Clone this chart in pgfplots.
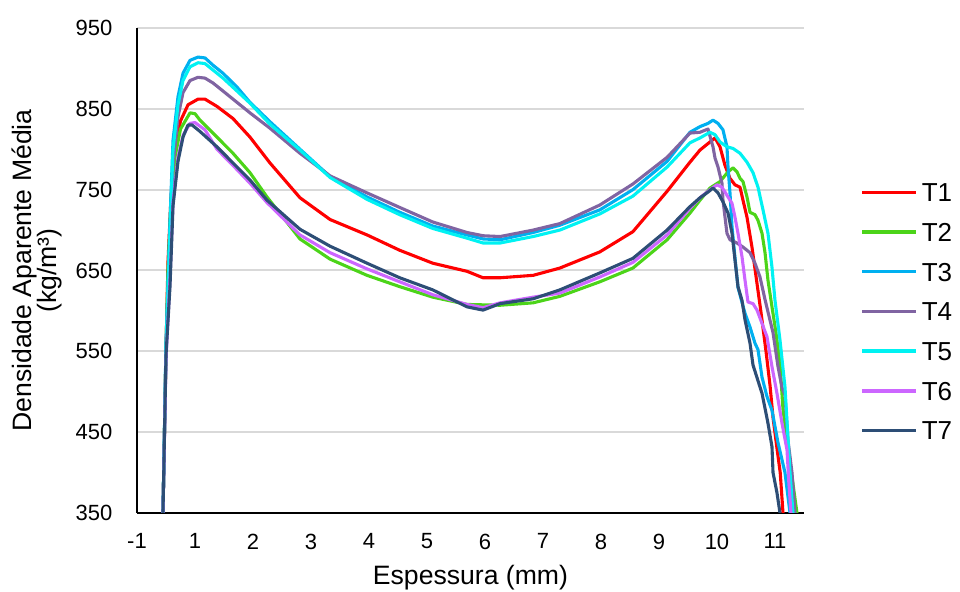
\documentclass[border=0pt]{standalone}
\usepackage{fontspec}
\setmainfont{Liberation Sans}
\usepackage{pgfplots}
\pgfplotsset{compat=1.18}
\definecolor{cT1}{HTML}{FF0000}
\definecolor{cT2}{HTML}{4CD419}
\definecolor{cT3}{HTML}{00B0F0}
\definecolor{cT4}{HTML}{8064A2}
\definecolor{cT5}{HTML}{00F2F2}
\definecolor{cT6}{HTML}{CC66FF}
\definecolor{cT7}{HTML}{2D4E76}
\definecolor{gridc}{HTML}{D9D9D9}
\begin{document}
\begin{tikzpicture}
\path[use as bounding box] (-68.5pt,-39.5pt) rectangle (411.5pt,256.5pt);
\begin{axis}[
  at={(0pt,0pt)}, anchor=south west,
  scale only axis, width=333.5pt, height=242.5pt,
  xmin=-0.5, xmax=11, ymin=350, ymax=950,
  xtick={-0.5,0.5,1.5,2.5,3.5,4.5,5.5,6.5,7.5,8.5,9.5,10.5},
  xticklabels={-1,1,2,3,4,5,6,7,8,9,10,11},
  ytick={350,450,550,650,750,850,950},
  axis x line*=bottom, axis y line*=left,
  axis line style={black, line width=1pt, -},
  major tick length=0pt,
  ymajorgrids, grid style={draw=gridc, line width=1pt},
  tick label style={font=\fontsize{11}{13}\selectfont},
  /pgf/number format/assume math mode=true,
  yticklabel style={anchor=east, xshift=-8.8pt},
  xticklabel style={anchor=north, yshift=-6.8pt},
  xlabel={Espessura (mm)},
  xlabel style={at={(axis description cs:0.5,-0.134)}, anchor=center, font=\fontsize{13.3}{15}\selectfont},
  ylabel={Densidade Aparente Média\\(kg/m³)},
  ylabel style={at={(axis description cs:-0.1507,0.5)}, anchor=center, align=center, font=\fontsize{13.3}{12.5}\selectfont},
  no markers,
  every axis plot/.append style={line width=1.55pt, line join=round},
  legend style={draw=none, fill=none, at={(1.075,0.4155)}, anchor=west,
    font=\fontsize{13}{15}\selectfont, row sep=6.45pt,
    nodes={text height=9.4pt, text depth=0pt}},
  legend cell align=left,
  legend image code/.code={\draw[#1, line width=1.7pt] (0pt,0pt) -- (27pt,0pt);},
]
\addplot[cT1] coordinates {
(-0.052,350) (0.0,552) (0.034,660) (0.086,740) (0.155,800) (0.25,835) (0.38,855) (0.552,862) (0.672,862) (0.879,853) (1.155,838) (1.448,815) (1.793,783) (2.31,740) (2.83,713) (3.466,694) (4.03,675) (4.6,659) (5.19,649) (5.466,641) (5.76,641) (6.33,644) (6.79,653) (7.48,673) (8.05,698) (8.64,748) (9.034,784) (9.207,799) (9.379,809) (9.466,814) (9.552,803) (9.638,780) (9.724,764) (9.81,756) (9.897,753) (9.948,737) (10.017,716) (10.103,679) (10.155,652) (10.207,625) (10.259,598) (10.345,550) (10.414,508) (10.466,468) (10.534,430) (10.59,400) (10.638,350)
};
\addlegendentry{T1}
\addplot[cT2] coordinates {
(-0.052,350) (0.0,552) (0.034,650) (0.086,735) (0.155,790) (0.25,825) (0.414,845) (0.5,844) (0.586,836) (0.879,815) (1.155,795) (1.448,771) (1.741,741) (2.31,689) (2.83,664) (3.466,644) (4.03,630) (4.6,617) (5.19,608) (5.76,607) (6.33,610) (6.79,618) (7.48,636) (8.05,653) (8.64,688) (9.034,721) (9.207,737) (9.379,752) (9.552,760) (9.69,772) (9.776,777) (9.845,772) (9.897,764) (9.948,760) (10.017,741) (10.069,722) (10.155,719) (10.207,712) (10.276,696) (10.328,672) (10.379,638) (10.448,605) (10.517,573) (10.586,535) (10.638,478) (10.724,432) (10.793,395) (10.879,350)
};
\addlegendentry{T2}
\addplot[cT3] coordinates {
(-0.052,350) (0.0,560) (0.069,712) (0.121,811) (0.207,865) (0.293,894) (0.414,910) (0.552,914) (0.672,913) (0.81,904) (0.983,894) (1.224,877) (1.448,858) (1.793,834) (2.31,800) (2.83,766) (3.466,741) (4.03,722) (4.6,705) (5.19,694) (5.466,689) (5.76,688) (6.33,697) (6.79,706) (7.48,725) (8.05,750) (8.64,785) (9.034,821) (9.207,828) (9.345,832) (9.431,836) (9.517,832) (9.603,824) (9.672,803) (9.69,778) (9.724,746) (9.759,704) (9.81,666) (9.862,629) (9.983,597) (10.069,580) (10.155,560) (10.207,552) (10.276,518) (10.362,494) (10.448,477) (10.552,437) (10.672,400) (10.759,350)
};
\addlegendentry{T3}
\addplot[cT4] coordinates {
(-0.052,350) (0.0,552) (0.069,690) (0.121,780) (0.207,840) (0.293,870) (0.414,885) (0.552,889) (0.672,888) (0.81,882) (0.983,872) (1.224,858) (1.448,845) (1.793,826) (2.31,795) (2.83,767) (3.466,746) (4.03,728) (4.6,710) (5.19,697) (5.466,693) (5.76,692) (6.33,700) (6.79,708) (7.48,731) (8.05,757) (8.64,790) (9.034,820) (9.207,821) (9.345,825) (9.431,803) (9.466,789) (9.517,778) (9.586,758) (9.603,737) (9.638,716) (9.672,696) (9.724,688) (9.845,684) (9.948,679) (10.069,672) (10.155,659) (10.241,642) (10.328,614) (10.466,573) (10.552,531) (10.621,505) (10.672,496) (10.724,440) (10.793,400) (10.845,350)
};
\addlegendentry{T4}
\addplot[cT5] coordinates {
(-0.052,350) (0.0,555) (0.069,700) (0.121,800) (0.207,855) (0.293,885) (0.414,902) (0.552,907) (0.672,906) (0.81,898) (0.983,888) (1.224,872) (1.448,857) (1.793,831) (2.31,799) (2.83,765) (3.466,738) (4.03,719) (4.6,702) (5.19,690) (5.466,684) (5.76,684) (6.33,692) (6.79,700) (7.48,720) (8.05,742) (8.64,778) (9.034,808) (9.207,814) (9.379,821) (9.466,818) (9.552,809) (9.672,803) (9.776,801) (9.897,795) (10.017,784) (10.121,771) (10.207,753) (10.293,725) (10.379,696) (10.448,654) (10.5,613) (10.586,564) (10.672,506) (10.759,400) (10.81,350)
};
\addlegendentry{T5}
\addplot[cT6] coordinates {
(-0.052,350) (0.0,540) (0.069,640) (0.121,735) (0.207,790) (0.3,818) (0.414,832) (0.5,833) (0.672,824) (0.879,800) (1.155,780) (1.448,758) (1.741,734) (2.31,694) (2.83,672) (3.466,652) (4.03,636) (4.6,620) (5.19,608) (5.466,604) (5.76,610) (6.33,617) (6.79,622) (7.48,642) (8.05,660) (8.64,694) (9.034,727) (9.207,740) (9.379,750) (9.5,756) (9.586,753) (9.672,743) (9.759,733) (9.81,716) (9.862,696) (9.931,667) (9.983,638) (10.034,611) (10.121,609) (10.19,601) (10.362,568) (10.448,531) (10.534,498) (10.621,461) (10.707,428) (10.741,385) (10.776,350)
};
\addlegendentry{T6}
\addplot[cT7] coordinates {
(-0.052,350) (0.0,545) (0.069,630) (0.121,730) (0.207,785) (0.293,815) (0.379,830) (0.45,830) (0.586,822) (0.879,803) (1.155,783) (1.448,762) (1.741,737) (2.31,701) (2.83,680) (3.466,659) (4.03,641) (4.6,626) (5.19,605) (5.466,601) (5.76,609) (6.33,615) (6.79,626) (7.48,647) (8.05,665) (8.64,700) (9.034,729) (9.207,740) (9.345,747) (9.431,752) (9.517,746) (9.603,735) (9.69,721) (9.759,696) (9.81,663) (9.862,630) (9.931,613) (9.983,589) (10.069,560) (10.121,533) (10.276,498) (10.379,461) (10.448,432) (10.466,400) (10.534,375) (10.586,350)
};
\addlegendentry{T7}
\end{axis}
\end{tikzpicture}
\end{document}
